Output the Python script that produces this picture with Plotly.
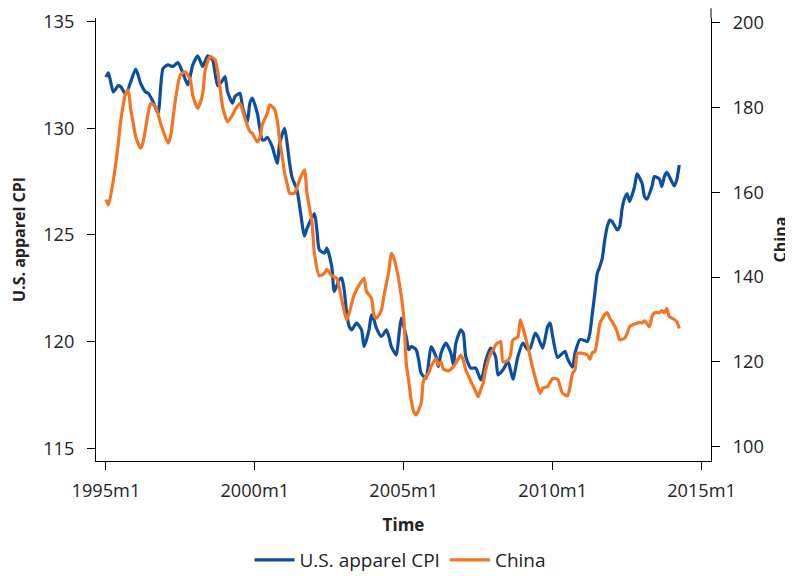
import plotly.graph_objects as go

# Colours / fonts
COLOR_BLUE = "#0B4EA2"
COLOR_ORANGE = "#F47421"
FONT_FAMILY = "Open Sans"
FONT_SIZE = 18.2
TITLE_SIZE = 16

# Months since 1995m1
us_month = [0, 1, 3, 5, 6, 8, 12, 14, 16, 17, 19, 21, 23, 25, 27, 29, 31, 33, 35, 37, 39, 41, 43, 45,
            47, 48, 49, 51, 52, 54, 55, 57, 58, 59, 61, 63, 64, 65, 67, 69, 70, 72, 73, 74, 75, 77,
            80, 81, 84, 85, 86, 88, 89, 91, 92, 94, 95, 96, 97, 98, 99, 101, 103, 104, 106, 107,
            108, 109, 111, 113, 114, 115, 117, 118, 119, 121, 122, 123, 125, 126, 127, 129, 130,
            131, 133, 134, 135, 137, 139, 140, 141, 143, 144, 145, 147, 149, 151, 152, 153, 155,
            157, 158, 160, 162, 163, 164, 166, 168, 170, 171, 173, 174, 176, 178, 179, 180, 182,
            184, 185, 186, 188, 189, 191, 193, 194, 195, 196, 197, 198, 199, 200, 201, 202, 203,
            204, 206, 207, 208, 209, 210, 211, 213, 214, 216, 217, 218, 220, 221, 223, 224, 225,
            226, 227, 229, 230, 231]
us_cpi = [132.4, 132.6, 131.7, 132.0, 131.95, 131.6, 132.77, 132.1, 131.7, 131.65, 131.25, 130.7,
          132.8, 132.97, 132.9, 133.08, 132.6, 132.03, 132.97, 133.4, 132.9, 133.4, 133.2, 132.0,
          132.25, 132.42, 131.72, 131.18, 131.49, 131.64, 131.02, 130.31, 131.18, 131.41, 130.71,
          129.46, 129.46, 129.58, 129.14, 128.36, 129.3, 130.0, 129.3, 128.36, 127.7, 127.11,
          124.95, 125.3, 126.0, 125.24, 124.3, 124.15, 124.38, 123.52, 122.35, 122.9, 122.98,
          122.43, 121.34, 120.71, 120.55, 120.87, 120.55, 119.77, 120.55, 121.26, 121.02, 120.63,
          120.24, 120.55, 120.24, 119.77, 119.38, 120.24, 121.1, 120.24, 119.62, 119.77, 119.62,
          119.15, 118.52, 118.29, 118.99, 119.77, 119.3, 118.83, 119.46, 119.93, 119.46, 118.91,
          119.93, 120.55, 120.4, 119.3, 118.76, 118.76, 118.21, 118.52, 119.1, 119.7, 119.3,
          118.44, 118.68, 119.07, 118.68, 118.24, 119.3, 119.93, 119.62, 119.7, 120.4, 120.24,
          119.7, 120.71, 120.87, 120.24, 119.26, 119.46, 119.54, 119.2, 118.8, 119.46, 120.09,
          120.05, 120.0, 120.4, 121.33, 122.27, 123.21, 123.52, 123.91, 124.77, 125.39, 125.7,
          125.63, 125.24, 125.39, 126.25, 126.72, 126.93, 126.57, 127.27, 127.86, 127.43, 126.8,
          126.68, 127.27, 127.74, 127.62, 127.27, 127.74, 127.93, 127.74, 127.3, 127.58, 128.28]

cn_month = [0, 1, 3, 5, 6, 8, 9, 10, 11, 12, 14, 15, 17, 18, 20, 22, 25, 26, 28, 30, 32, 34, 35, 37,
            39, 40, 42, 44, 46, 47, 49, 51, 52, 54, 56, 58, 59, 61, 62, 63, 65, 66, 68, 69, 70, 71,
            72, 73, 74, 76, 78, 80, 81, 83, 84, 86, 88, 89, 91, 93, 94, 96, 97, 98, 100, 102, 104,
            105, 107, 108, 109, 111, 112, 114, 115, 116, 118, 120, 121, 122, 123, 124, 125, 127,
            128, 130, 131, 133, 134, 135, 136, 138, 140, 141, 143, 144, 145, 147, 149, 150, 151,
            152, 153, 155, 156, 157, 159, 160, 162, 163, 164, 166, 167, 169, 170, 172, 174, 175,
            176, 178, 180, 182, 183, 184, 186, 187, 188, 189, 190, 192, 194, 195, 196, 197, 198,
            199, 201, 202, 203, 204, 206, 207, 209, 210, 211, 213, 215, 216, 217, 219, 220, 221,
            223, 224, 225, 226, 227, 229, 230, 231]
cn_index = [158.3, 157.0, 162.9, 171.6, 177.0, 183.3, 184.1, 179.5, 176.3, 173.1, 170.4, 171.9,
            178.6, 181.0, 180.2, 176.3, 171.6, 173.1, 181.8, 187.7, 188.4, 186.5, 182.8, 179.8,
            183.3, 188.8, 192.0, 191.2, 184.5, 180.2, 176.65, 178.2, 179.4, 181.0, 177.45, 174.3,
            173.9, 171.9, 172.7, 175.9, 178.6, 180.6, 179.5, 177.1, 172.3, 168.5, 164.5, 162.1,
            159.8, 159.8, 162.9, 165.3, 159.8, 153.0, 145.6, 140.3, 140.9, 141.8, 140.3, 139.7,
            137.5, 132.0, 129.9, 131.5, 135.8, 138.1, 139.7, 136.6, 135.0, 131.1, 130.3, 132.2,
            135.5, 141.5, 145.6, 144.5, 139.3, 130.7, 119.7, 115.5, 111.0, 108.3, 107.5, 110.2,
            115.7, 117.3, 118.9, 120.8, 119.3, 120.0, 118.3, 117.9, 118.9, 119.7, 121.6, 120.4,
            118.1, 115.5, 113.0, 111.8, 113.5, 115.0, 118.1, 122.0, 122.8, 124.0, 124.8, 120.0,
            120.4, 121.6, 125.2, 125.9, 129.9, 125.9, 123.6, 118.5, 114.2, 112.6, 113.8, 114.2,
            116.1, 115.9, 114.2, 112.6, 112.0, 114.2, 117.3, 118.1, 122.0, 122.0, 121.6, 120.6,
            122.2, 122.4, 125.2, 129.0, 131.2, 131.6, 130.3, 129.5, 127.1, 125.2, 125.6, 126.7,
            128.3, 128.9, 129.3, 129.2, 129.7, 128.3, 130.7, 131.6, 131.6, 132.1, 131.6, 132.6,
            130.7, 130.0, 129.5, 127.9]

tick_month = [0, 60, 120, 180, 240]
tick_text = ["1995m1", "2000m1", "2005m1", "2010m1", "2015m1"]
us_ticks = [115, 120, 125, 130, 135]
cn_ticks = [100, 120, 140, 160, 180, 200]

fig = go.Figure()

fig.add_trace(go.Scatter(
    x=us_month, y=us_cpi, name="U.S. apparel CPI", mode="lines",
    line=dict(color=COLOR_BLUE, width=3.2, shape="spline", smoothing=0.6),
))
fig.add_trace(go.Scatter(
    x=cn_month, y=cn_index, name="China", mode="lines", yaxis="y2",
    line=dict(color=COLOR_ORANGE, width=3.2, shape="spline", smoothing=0.6),
))

axis_common = dict(
    showline=True, linecolor="black", linewidth=1,
    ticks="outside", ticklen=8, tickcolor="black",
    showgrid=False, zeroline=False, automargin=False,
    tickfont=dict(size=FONT_SIZE, color="#222"),
)

# right axis line runs a little above the plot top in the original
fig.add_shape(type="line", xref="paper", yref="paper", x0=1, x1=1, y0=1, y1=1.022,
              line=dict(color="black", width=1))

# page body adds an 8px offset, so the figure is 8px smaller than the window
fig.update_layout(
    width=785, height=568,
    paper_bgcolor="white", plot_bgcolor="white",
    font=dict(family=FONT_FAMILY, size=FONT_SIZE, color="#222"),
    margin=dict(l=88, r=82, t=10, b=115, autoexpand=False),
    xaxis=dict(
        range=[-4.0, 243.8], tickvals=tick_month, ticktext=tick_text,
        ticklabelstandoff=5,
        title=dict(text="<b>Time</b>", standoff=18, font=dict(size=TITLE_SIZE + 1)),
        **axis_common
    ),
    yaxis=dict(
        range=[114.405, 135.17], tickvals=us_ticks, ticklabelstandoff=9,
        title=dict(text="<b>U.S. apparel CPI</b>", standoff=15, font=dict(size=TITLE_SIZE)),
        **axis_common
    ),
    yaxis2=dict(
        range=[96.63, 201.1], tickvals=cn_ticks, overlaying="y", side="right",
        ticklabelstandoff=9,
        title=dict(text="<b>China</b>", standoff=11, font=dict(size=TITLE_SIZE)),
        **axis_common
    ),
    legend=dict(
        orientation="h", x=0.5, xanchor="center", xref="container",
        y=0.028, yanchor="middle", yref="container",
        font=dict(size=19), itemwidth=40,
    ),
)

fig.write_html("out.html")
